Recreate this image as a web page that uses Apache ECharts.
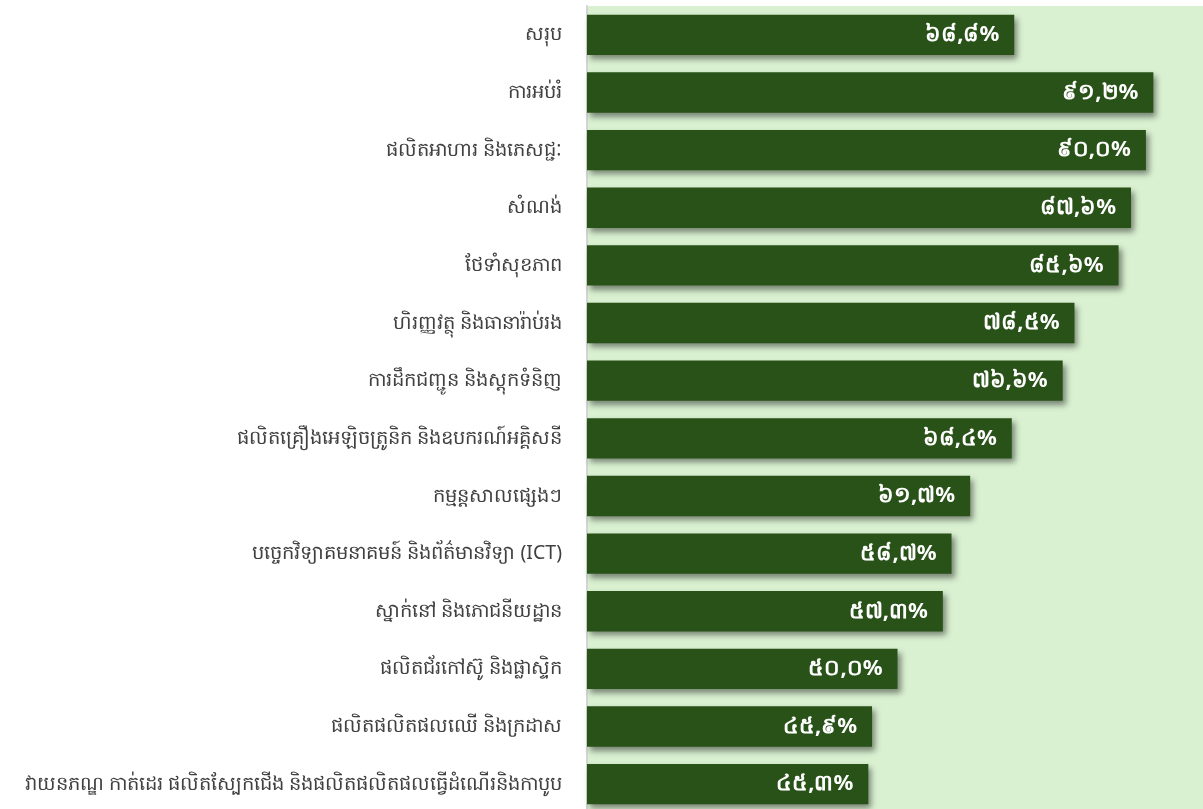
<!DOCTYPE html>
<html>
<head>
<meta charset="utf-8">
<script src="https://cdn.jsdelivr.net/npm/echarts@6/dist/echarts.min.js"></script>
<style>
html,body{margin:0;padding:0;background:#fff;}
#c{width:1203px;height:809px;}
</style>
</head>
<body>
<div id="c"></div>
<script>
const categories = [
  "សរុប",
  "ការអប់រំ",
  "ផលិតអាហារ និងភេសជ្ជៈ",
  "សំណង់",
  "ថែទាំសុខភាព",
  "ហិរញ្ញវត្ថុ និងធានារ៉ាប់រង",
  "ការដឹកជញ្ជូន និងស្តុកទំនិញ",
  "ផលិតគ្រឿងអេឡិចត្រូនិក និងឧបករណ៍អគ្គិសនី",
  "កម្មន្តសាលផ្សេងៗ",
  "បច្ចេកវិទ្យាគមនាគមន៍ និងព័ត៌មានវិទ្យា (ICT)",
  "ស្នាក់នៅ និងភោជនីយដ្ឋាន",
  "ផលិតជ័រកៅស៊ូ និងផ្លាស្ទិក",
  "ផលិតផលិតផលឈើ និងក្រដាស",
  "វាយនភណ្ឌ កាត់ដេរ ផលិតស្បែកជើង និងផលិតផលិតផលធ្វើដំណើរនិងកាបូប"
];
const values = [68.8, 91.2, 90.0, 87.6, 85.6, 78.5, 76.6, 68.4, 61.7, 58.7, 57.3, 50.0, 45.9, 45.3];

const khDigits = ['០','១','២','៣','៤','៥','៦','៧','៨','៩'];
function toKhmer(v){
  return v.toFixed(1).replace('.', ',').replace(/[0-9]/g, d => khDigits[+d]) + '%';
}

const chart = echarts.init(document.getElementById('c'));
chart.setOption({
  animation: false,
  grid: {
    left: 587, top: 6, width: 621, height: 807,
    outerBoundsMode: 'none', containLabel: false,
    show: true, backgroundColor: '#d9f1d1', borderWidth: 0
  },
  xAxis: {
    type: 'value', min: 0, max: 100, show: false
  },
  yAxis: {
    type: 'category', data: categories, inverse: true,
    axisLine: { show: true, lineStyle: { color: '#d4d4d4', width: 2 } },
    axisTick: { show: false },
    axisLabel: {
      color: '#404040', fontSize: 19.5, margin: 25,
      fontFamily: '"Noto Sans", "DejaVu Sans", sans-serif'
    }
  },
  series: [{
    type: 'bar',
    data: values,
    barCategoryGap: '30%',
    itemStyle: {
      color: '#285218',
      shadowColor: 'rgba(0,0,0,0.45)',
      shadowBlur: 6,
      shadowOffsetX: 3,
      shadowOffsetY: 4
    },
    label: {
      show: true, position: 'insideRight', distance: 15,
      color: '#ffffff', fontSize: 22, fontWeight: 'bold',
      fontFamily: '"Noto Sans", "DejaVu Sans", sans-serif',
      formatter: p => toKhmer(p.value)
    }
  }]
});
</script>
</body>
</html>
